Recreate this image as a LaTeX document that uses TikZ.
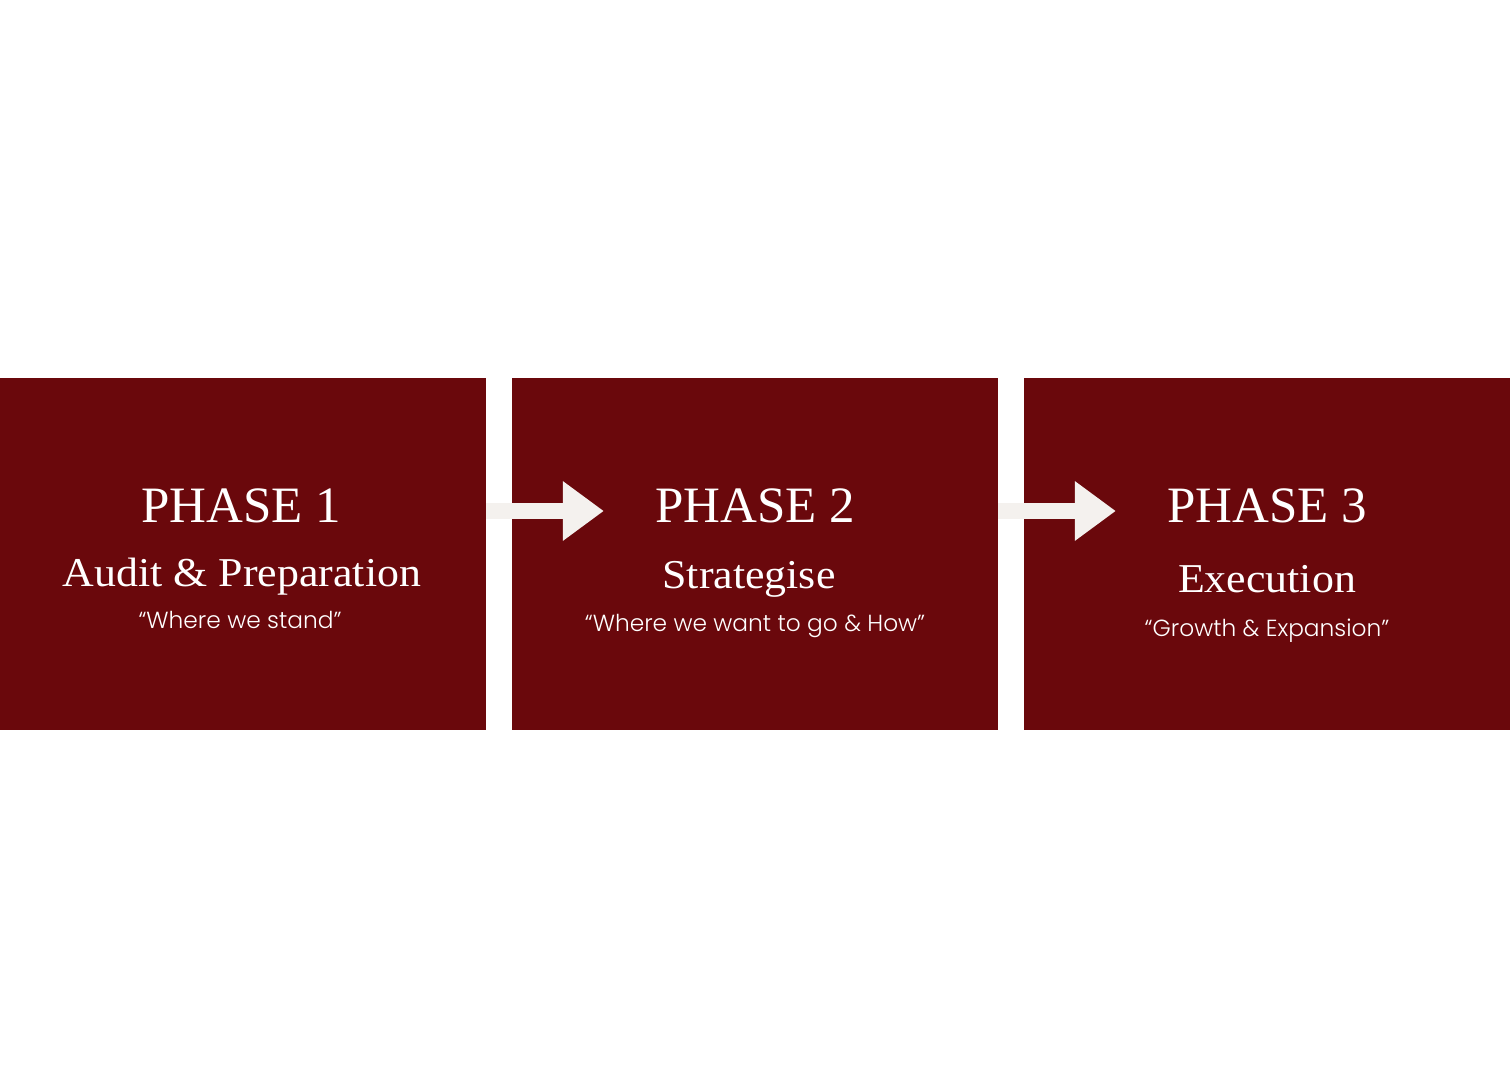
\documentclass[tikz,border=0pt]{standalone}
\usepackage{fontspec}
\setmainfont{Liberation Serif}
\newfontfamily\namefont{Liberation Serif}[FakeStretch=1.07]
\newfontfamily\quotefont{Poppins Light}
\usepackage{tikz}
\usetikzlibrary{arrows.meta}
\definecolor{wine}{RGB}{106,8,12}
\definecolor{shell}{RGB}{244,241,238}
\tikzstyle{phasebox} = [rectangle, minimum width=486pt, minimum height=352pt, inner sep=0pt, fill=wine]
\tikzstyle{phasetitle} = [anchor=base, text=white, inner sep=0pt, font=\fontsize{51}{60}\selectfont]
\tikzstyle{phasename} = [anchor=base, text=white, inner sep=0pt, font=\namefont\fontsize{41}{48}\selectfont]
\tikzstyle{phasequote} = [anchor=base, text=white, inner sep=0pt, font=\quotefont\fontsize{23.3}{28}\selectfont]
\tikzstyle{flow} = [shell, line width=16pt, -{Triangle[length=41pt, width=57pt]}]

\begin{document}
\begin{tikzpicture}[x=1pt, y=1pt]
	\useasboundingbox (0,0) rectangle (1512,1080);
	\node (b1) [phasebox] at (243,526) {};
	\node (b2) [phasebox] at (755,526) {};
	\node (b3) [phasebox] at (1267,526) {};

	\node (t1) [phasetitle] at (241,557) {PHASE 1};
	\node (n1) [phasename] at (242,493) {Audit \& Preparation};
	\node (q1) [phasequote] at (240,451) {“Where we stand”};

	\node (t2) [phasetitle] at (755,557) {PHASE 2};
	\node (n2) [phasename] at (749,491) {Strategise};
	\node (q2) [phasequote] at (755,448) {“Where we want to go \& How”};

	\node (t3) [phasetitle] at (1267,557) {PHASE 3};
	\node (n3) [phasename] at (1267,487) {Execution};
	\node (q3) [phasequote] at (1267,443) {“Growth \& Expansion”};

	\draw [flow] ([yshift=43pt]b1.east) -- ([xshift=92pt, yshift=43pt]b2.west);
	\draw [flow] ([yshift=43pt]b2.east) -- ([xshift=92pt, yshift=43pt]b3.west);
\end{tikzpicture}
\end{document}
